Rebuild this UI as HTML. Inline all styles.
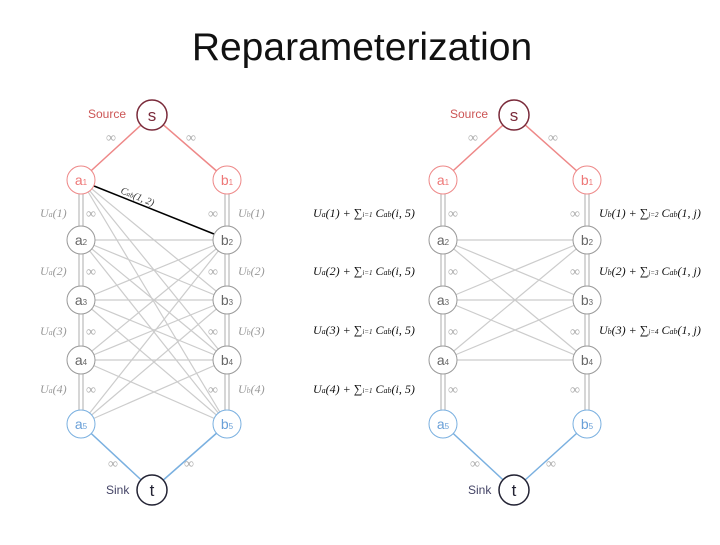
<!DOCTYPE html>
<html><head><meta charset="utf-8"><style>
body{margin:0;background:#fff;width:720px;height:540px;overflow:hidden}
.s{font-family:"Liberation Sans",sans-serif}
.m{font-family:"Liberation Serif",serif;font-style:italic}
</style></head><body>
<svg width="720" height="540" viewBox="0 0 720 540" xmlns="http://www.w3.org/2000/svg">
<text class="s" x="362" y="60" font-size="39" text-anchor="middle" fill="#111">Reparameterization</text>
<g stroke="#ccc" stroke-width="1.2">
<line x1="81" y1="180" x2="227" y2="300"/><line x1="81" y1="180" x2="227" y2="360"/><line x1="81" y1="180" x2="227" y2="424"/>
<line x1="81" y1="240" x2="227" y2="240"/><line x1="81" y1="240" x2="227" y2="300"/><line x1="81" y1="240" x2="227" y2="360"/><line x1="81" y1="240" x2="227" y2="424"/>
<line x1="81" y1="300" x2="227" y2="240"/><line x1="81" y1="300" x2="227" y2="300"/><line x1="81" y1="300" x2="227" y2="360"/><line x1="81" y1="300" x2="227" y2="424"/>
<line x1="81" y1="360" x2="227" y2="240"/><line x1="81" y1="360" x2="227" y2="300"/><line x1="81" y1="360" x2="227" y2="360"/><line x1="81" y1="360" x2="227" y2="424"/>
<line x1="81" y1="424" x2="227" y2="240"/><line x1="81" y1="424" x2="227" y2="300"/><line x1="81" y1="424" x2="227" y2="360"/>
</g>
<line x1="94" y1="186" x2="214" y2="234" stroke="#000" stroke-width="1.5"/>
<text x="120" y="193" font-size="10" class="m" transform="rotate(22 120 193)" fill="#333">C<tspan font-size="7">ab</tspan>(1, 2)</text>
<g stroke="#bbb" stroke-width="1.2">
<line x1="79" y1="194" x2="79" y2="410"/><line x1="83" y1="194" x2="83" y2="410"/>
<line x1="225" y1="194" x2="225" y2="410"/><line x1="229" y1="194" x2="229" y2="410"/>
<line x1="441" y1="194" x2="441" y2="410"/><line x1="445" y1="194" x2="445" y2="410"/>
<line x1="585" y1="194" x2="585" y2="410"/><line x1="589" y1="194" x2="589" y2="410"/>
</g>
<g stroke="#ccc" stroke-width="1.2">
<line x1="443" y1="240" x2="587" y2="240"/><line x1="443" y1="240" x2="587" y2="300"/><line x1="443" y1="240" x2="587" y2="360"/>
<line x1="443" y1="300" x2="587" y2="240"/><line x1="443" y1="300" x2="587" y2="300"/><line x1="443" y1="300" x2="587" y2="360"/>
<line x1="443" y1="360" x2="587" y2="240"/><line x1="443" y1="360" x2="587" y2="300"/><line x1="443" y1="360" x2="587" y2="360"/>
</g>
<g stroke-width="1.5">
<line x1="152" y1="115" x2="81" y2="180" stroke="#e88"/><line x1="152" y1="115" x2="227" y2="180" stroke="#e88"/>
<line x1="152" y1="490" x2="81" y2="424" stroke="#7ab0e0"/><line x1="152" y1="490" x2="227" y2="424" stroke="#7ab0e0"/>
<line x1="514" y1="115" x2="443" y2="180" stroke="#e88"/><line x1="514" y1="115" x2="587" y2="180" stroke="#e88"/>
<line x1="514" y1="490" x2="443" y2="424" stroke="#7ab0e0"/><line x1="514" y1="490" x2="587" y2="424" stroke="#7ab0e0"/>
</g>
<g font-size="13" fill="#444" class="s">
<circle cx="152" cy="115" r="15" fill="#fff" stroke="#7a2a3a" stroke-width="1.5"/><text x="152" y="121" text-anchor="middle" font-size="17" fill="#7a2a3a">s</text>
<circle cx="152" cy="490" r="15" fill="#fff" stroke="#223" stroke-width="1.5"/><text x="152" y="496" text-anchor="middle" font-size="17" fill="#223">t</text>
<circle cx="514" cy="115" r="15" fill="#fff" stroke="#7a2a3a" stroke-width="1.5"/><text x="514" y="121" text-anchor="middle" font-size="17" fill="#7a2a3a">s</text>
<circle cx="514" cy="490" r="15" fill="#fff" stroke="#223" stroke-width="1.5"/><text x="514" y="496" text-anchor="middle" font-size="17" fill="#223">t</text>
<text x="88" y="118" font-size="12" fill="#c55">Source</text><text x="450" y="118" font-size="12" fill="#c55">Source</text>
<text x="106" y="494" font-size="12" fill="#446">Sink</text><text x="468" y="494" font-size="12" fill="#446">Sink</text>
</g>
<g font-size="14" class="s">
<circle cx="81" cy="180" r="14" fill="#fff" stroke="#e88"/><text x="81" y="185" text-anchor="middle" fill="#e77">a<tspan font-size="8">1</tspan></text>
<circle cx="227" cy="180" r="14" fill="#fff" stroke="#e88"/><text x="227" y="185" text-anchor="middle" fill="#e77">b<tspan font-size="8">1</tspan></text>
<circle cx="81" cy="240" r="14" fill="#fff" stroke="#999"/><text x="81" y="245" text-anchor="middle" fill="#666">a<tspan font-size="8">2</tspan></text>
<circle cx="227" cy="240" r="14" fill="#fff" stroke="#999"/><text x="227" y="245" text-anchor="middle" fill="#666">b<tspan font-size="8">2</tspan></text>
<circle cx="81" cy="300" r="14" fill="#fff" stroke="#999"/><text x="81" y="305" text-anchor="middle" fill="#666">a<tspan font-size="8">3</tspan></text>
<circle cx="227" cy="300" r="14" fill="#fff" stroke="#999"/><text x="227" y="305" text-anchor="middle" fill="#666">b<tspan font-size="8">3</tspan></text>
<circle cx="81" cy="360" r="14" fill="#fff" stroke="#999"/><text x="81" y="365" text-anchor="middle" fill="#666">a<tspan font-size="8">4</tspan></text>
<circle cx="227" cy="360" r="14" fill="#fff" stroke="#999"/><text x="227" y="365" text-anchor="middle" fill="#666">b<tspan font-size="8">4</tspan></text>
<circle cx="81" cy="424" r="14" fill="#fff" stroke="#7ab0e0"/><text x="81" y="429" text-anchor="middle" fill="#6aa0d8">a<tspan font-size="8">5</tspan></text>
<circle cx="227" cy="424" r="14" fill="#fff" stroke="#7ab0e0"/><text x="227" y="429" text-anchor="middle" fill="#6aa0d8">b<tspan font-size="8">5</tspan></text>
<circle cx="443" cy="180" r="14" fill="#fff" stroke="#e88"/><text x="443" y="185" text-anchor="middle" fill="#e77">a<tspan font-size="8">1</tspan></text>
<circle cx="587" cy="180" r="14" fill="#fff" stroke="#e88"/><text x="587" y="185" text-anchor="middle" fill="#e77">b<tspan font-size="8">1</tspan></text>
<circle cx="443" cy="240" r="14" fill="#fff" stroke="#999"/><text x="443" y="245" text-anchor="middle" fill="#666">a<tspan font-size="8">2</tspan></text>
<circle cx="587" cy="240" r="14" fill="#fff" stroke="#999"/><text x="587" y="245" text-anchor="middle" fill="#666">b<tspan font-size="8">2</tspan></text>
<circle cx="443" cy="300" r="14" fill="#fff" stroke="#999"/><text x="443" y="305" text-anchor="middle" fill="#666">a<tspan font-size="8">3</tspan></text>
<circle cx="587" cy="300" r="14" fill="#fff" stroke="#999"/><text x="587" y="305" text-anchor="middle" fill="#666">b<tspan font-size="8">3</tspan></text>
<circle cx="443" cy="360" r="14" fill="#fff" stroke="#999"/><text x="443" y="365" text-anchor="middle" fill="#666">a<tspan font-size="8">4</tspan></text>
<circle cx="587" cy="360" r="14" fill="#fff" stroke="#999"/><text x="587" y="365" text-anchor="middle" fill="#666">b<tspan font-size="8">4</tspan></text>
<circle cx="443" cy="424" r="14" fill="#fff" stroke="#7ab0e0"/><text x="443" y="429" text-anchor="middle" fill="#6aa0d8">a<tspan font-size="8">5</tspan></text>
<circle cx="587" cy="424" r="14" fill="#fff" stroke="#7ab0e0"/><text x="587" y="429" text-anchor="middle" fill="#6aa0d8">b<tspan font-size="8">5</tspan></text>
</g>
<g font-size="12" fill="#999" class="m">
<text x="40" y="217">U<tspan font-size="8">a</tspan>(1)</text><text x="40" y="275">U<tspan font-size="8">a</tspan>(2)</text><text x="40" y="335">U<tspan font-size="8">a</tspan>(3)</text><text x="40" y="393">U<tspan font-size="8">a</tspan>(4)</text>
<text x="238" y="217">U<tspan font-size="8">b</tspan>(1)</text><text x="238" y="275">U<tspan font-size="8">b</tspan>(2)</text><text x="238" y="335">U<tspan font-size="8">b</tspan>(3)</text><text x="238" y="393">U<tspan font-size="8">b</tspan>(4)</text>
</g>
<g font-size="14" fill="#aaa" style="font-family:'Liberation Serif',serif">
<text x="86" y="218">∞</text><text x="86" y="276">∞</text><text x="86" y="336">∞</text><text x="86" y="394">∞</text>
<text x="208" y="218">∞</text><text x="208" y="276">∞</text><text x="208" y="336">∞</text><text x="208" y="394">∞</text>
<text x="448" y="218">∞</text><text x="448" y="276">∞</text><text x="448" y="336">∞</text><text x="448" y="394">∞</text>
<text x="570" y="218">∞</text><text x="570" y="276">∞</text><text x="570" y="336">∞</text><text x="570" y="394">∞</text>
<text x="106" y="142">∞</text><text x="186" y="142">∞</text><text x="108" y="468">∞</text><text x="184" y="468">∞</text>
<text x="468" y="142">∞</text><text x="548" y="142">∞</text><text x="470" y="468">∞</text><text x="546" y="468">∞</text>
</g>
<g font-size="12" fill="#111" class="m">
<text x="313" y="217">U<tspan font-size="8">a</tspan>(1) + ∑<tspan font-size="7">i=1</tspan> C<tspan font-size="8">ab</tspan>(i, 5)</text>
<text x="313" y="275">U<tspan font-size="8">a</tspan>(2) + ∑<tspan font-size="7">i=1</tspan> C<tspan font-size="8">ab</tspan>(i, 5)</text>
<text x="313" y="334">U<tspan font-size="8">a</tspan>(3) + ∑<tspan font-size="7">i=1</tspan> C<tspan font-size="8">ab</tspan>(i, 5)</text>
<text x="313" y="393">U<tspan font-size="8">a</tspan>(4) + ∑<tspan font-size="7">i=1</tspan> C<tspan font-size="8">ab</tspan>(i, 5)</text>
<text x="599" y="217">U<tspan font-size="8">b</tspan>(1) + ∑<tspan font-size="7">j=2</tspan> C<tspan font-size="8">ab</tspan>(1, j)</text>
<text x="599" y="275">U<tspan font-size="8">b</tspan>(2) + ∑<tspan font-size="7">j=3</tspan> C<tspan font-size="8">ab</tspan>(1, j)</text>
<text x="599" y="334">U<tspan font-size="8">b</tspan>(3) + ∑<tspan font-size="7">j=4</tspan> C<tspan font-size="8">ab</tspan>(1, j)</text>
</g>
</svg>
</body></html>
